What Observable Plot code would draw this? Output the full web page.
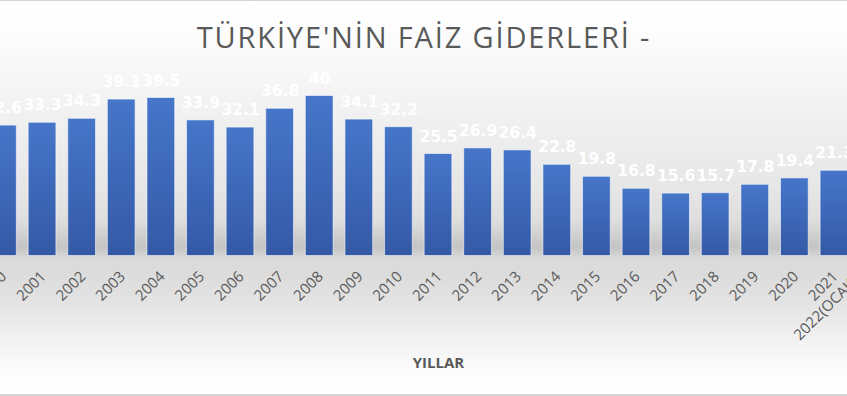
<!DOCTYPE html>
<html>
<head>
<meta charset="utf-8">
<script src="https://cdn.jsdelivr.net/npm/d3@7"></script>
<script src="https://cdn.jsdelivr.net/npm/@observablehq/plot@0.6"></script>
<style>
  html, body { margin: 0; padding: 0; background: #fff; }
  #wrap {
    position: relative; width: 847px; height: 396px; overflow: hidden;
    background: linear-gradient(to bottom,
      #ffffff 0px, #fdfdfd 30px, #f3f3f3 100px, #e6e6e6 190px, #dddddd 222px,
      #cbcbcb 240px, #c4c4c4 247px, #d3d3d3 255px, #dadada 258px, #dcdcdc 275px,
      #e4e4e4 305px, #f0f0f0 335px, #fafafa 365px, #ffffff 390px);
  }
  #wrap .line { position: absolute; left: 0; width: 847px; background: #d4d4d4; }
  #wrap svg { position: absolute; left: 0; top: 0; }
</style>
</head>
<body>
<div id="wrap">
  <div class="line" style="top:0;height:1px"></div>
  <div class="line" style="top:394px;height:2px"></div>
</div>
<script>
const titleText = "TÜRKİYE'NİN FAİZ GİDERLERİ -";
const axisTitle = "YILLAR";
const years = ["2000","2001","2002","2003","2004","2005","2006","2007","2008","2009","2010",
  "2011","2012","2013","2014","2015","2016","2017","2018","2019","2020","2021","2022(OCAK-EKİM)"];
const values = [32.6,33.3,34.3,39.1,39.5,33.9,32.1,36.8,40,34.1,32.2,
  25.5,26.9,26.4,22.8,19.8,16.8,15.6,15.7,17.8,19.4,21.3,null];

const data = years.map((year, i) => ({year, value: values[i]}));
const lastYear = years[years.length - 1];

const chart = Plot.plot({
  width: 847, height: 396,
  marginTop: 0, marginRight: 0, marginBottom: 0, marginLeft: 0,
  style: {background: "transparent", fontFamily: "DejaVu Sans", overflow: "visible"},
  x: {type: "band", domain: years, range: [-23.3, 899.3], padding: 0.3, round: false, axis: null},
  y: {domain: [0, 40], range: [255.5, 95.5], axis: null},
  marks: [
    Plot.barY(data.filter(d => d.value != null), {
      x: "year", y: "value", fill: "url(#barGrad)",
      stroke: "#ffffff", strokeOpacity: 0.55, strokeWidth: 1
    }),
    Plot.text(data.filter(d => d.value != null), {
      x: "year", y: "value", text: d => String(d.value),
      lineAnchor: "bottom", dy: -12.5, fill: "#ffffff",
      fontWeight: "bold", fontSize: 15.5, fontFamily: "DejaVu Sans"
    }),
    Plot.text(data.filter(d => d.year !== lastYear), {
      x: "year", y: 0, text: "year", rotate: -45, textAnchor: "end", lineAnchor: "middle",
      dx: 1, dy: 18, fill: "#595959", fontSize: 15, fontFamily: "Open Sans"
    }),
    Plot.text(data.filter(d => d.year === lastYear), {
      x: "year", y: 0, text: "year", rotate: -45, textAnchor: "start", lineAnchor: "middle",
      dx: -77.5, dy: 81.6, fill: "#595959", fontSize: 15, fontFamily: "Open Sans"
    }),
    Plot.text([titleText], {
      frameAnchor: "top", lineAnchor: "bottom", dy: 47.5, text: d => d,
      fill: "#595959", fontSize: 29, fontFamily: "Open Sans"
    }),
    Plot.text([axisTitle], {
      frameAnchor: "top", lineAnchor: "bottom", dy: 367.7, dx: 14.5, text: d => d,
      fill: "#595959", fontSize: 15, fontWeight: "bold", fontFamily: "Open Sans"
    })
  ]
});

d3.select(chart).selectAll("text")
  .filter(function() { return this.textContent === titleText; })
  .style("letter-spacing", "1.85px");

const defs = d3.select(chart).insert("defs", ":first-child");
const g = defs.append("linearGradient").attr("id", "barGrad")
  .attr("x1", 0).attr("y1", 0).attr("x2", 0).attr("y2", 1);
g.append("stop").attr("offset", "0%").attr("stop-color", "#4676c9");
g.append("stop").attr("offset", "100%").attr("stop-color", "#3459a6");

document.getElementById("wrap").appendChild(chart);
</script>
</body>
</html>
